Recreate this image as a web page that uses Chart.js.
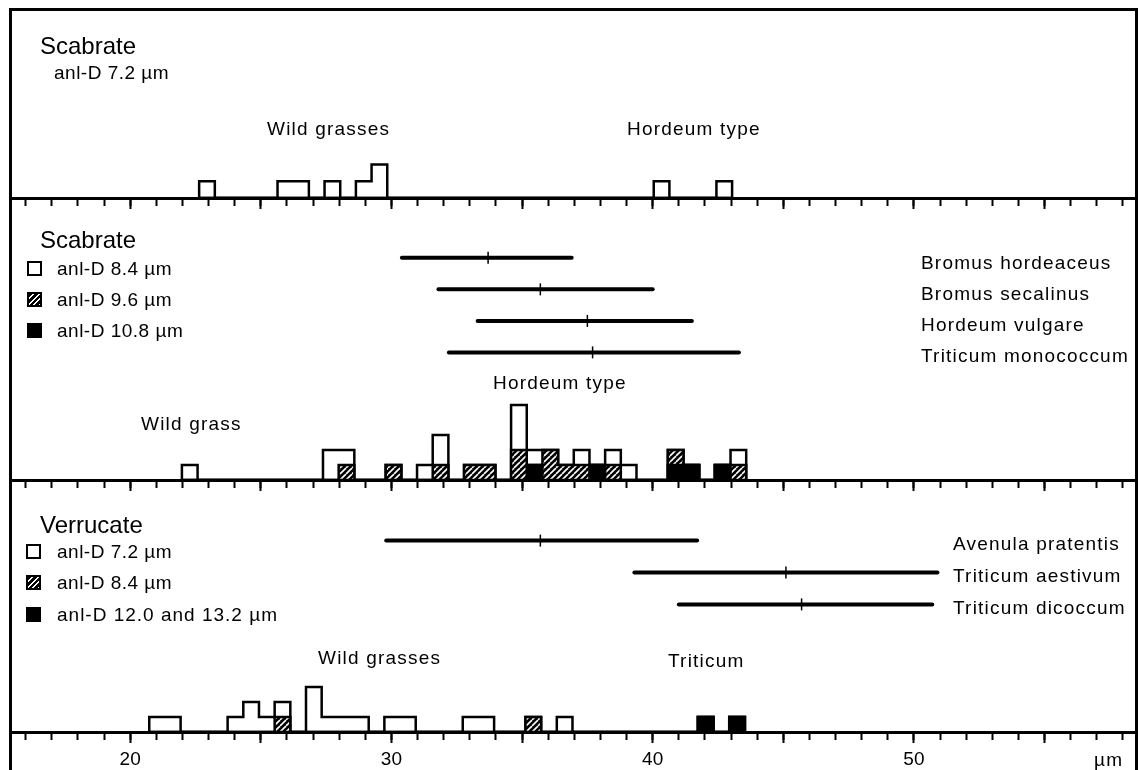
<!DOCTYPE html>
<html>
<head>
<meta charset="utf-8">
<script src="https://cdn.jsdelivr.net/npm/chart.js@4.4.1/dist/chart.umd.min.js"></script>
<style>
  body { margin: 0; background: #fff; }
  #page { position: relative; width: 1139px; height: 770px; overflow: hidden; font-family: "Liberation Sans", Arial, sans-serif; color: #000; }
  #frame { position: absolute; left: 9px; top: 8px; width: 1129px; height: 800px; box-sizing: border-box; border: 3px solid #000; border-bottom: none; }
  canvas { position: absolute; left: 10px; }
  .t { position: absolute; line-height: 1; white-space: nowrap; }
  .sq { position: absolute; width: 15px; height: 15px; box-sizing: border-box; border: 2px solid #000; background: #fff; }
  .sq.hatch { background: repeating-linear-gradient(135deg, #000 0 2.5px, #fff 2.5px 4px); }
  .sq.solid { background: #000; }
</style>
</head>
<body>
<div id="page">
  <div id="frame"></div>
  <canvas id="top" width="1126" height="203" style="top:9px;width:1126px;height:203px"></canvas>
  <canvas id="mid" width="1126" height="296" style="top:198px;width:1126px;height:296px"></canvas>
  <canvas id="bot" width="1126" height="290" style="top:480px;width:1126px;height:290px"></canvas>
</div>
<script>
// pollen size axis (µm)
const xMin = 15.4;
const xMax = 58.5;
const binWidth = 0.6;

// Scabrate, anl-D 7.2 µm (lower bin edges, counts)
const topBins = [22.64, 25.64, 26.24, 27.44, 28.64, 29.24, 40.04, 42.44];
const topOpen = [1, 1, 1, 1, 1, 2, 1, 1];

// Scabrate, anl-D 8.4 / 9.6 / 10.8 µm
const midBins =    [21.98, 27.38, 27.98, 29.78, 30.98, 31.58, 32.78, 33.38, 34.58, 35.18, 35.78, 36.38, 36.98, 37.58, 38.18, 38.78, 40.58, 41.18, 42.38, 42.98];
const midOpen =    [1, 2, 1, 0, 1, 2, 0, 0, 3, 1, 0, 0, 1, 0, 1, 1, 0, 0, 0, 1];
const midHatched = [0, 0, 1, 1, 0, 1, 1, 1, 2, 0, 2, 1, 1, 0, 1, 0, 1, 0, 0, 1];
const midBlack =   [0, 0, 0, 0, 0, 0, 0, 0, 0, 1, 0, 0, 0, 1, 0, 0, 1, 1, 1, 0];

// Verrucate, anl-D 7.2 / 8.4 / 12.0 and 13.2 µm
const botBins =    [20.73, 21.33, 23.73, 24.33, 24.93, 25.53, 26.73, 27.33, 27.93, 28.53, 29.73, 30.33, 32.73, 33.33, 35.13, 36.33, 41.73, 42.93];
const botOpen =    [1, 1, 1, 2, 1, 1, 3, 1, 1, 1, 1, 1, 1, 1, 0, 1, 0, 0];
const botHatched = [0, 0, 0, 0, 0, 1, 0, 0, 0, 0, 0, 0, 0, 0, 1, 0, 0, 0];
const botBlack =   [0, 0, 0, 0, 0, 0, 0, 0, 0, 0, 0, 0, 0, 0, 0, 0, 1, 1];

// reference ranges: min, mean, max
const midSpecies = ['Bromus hordeaceus', 'Bromus secalinus', 'Hordeum vulgare', 'Triticum monococcum'];
const midMin =  [30.4, 31.8, 33.3, 32.2];
const midMean = [33.7, 35.7, 37.5, 37.7];
const midMax =  [36.9, 40.0, 41.5, 43.3];

const botSpecies = ['Avenula pratentis', 'Triticum aestivum', 'Triticum dicoccum'];
const botMin =  [29.8, 39.3, 41.0];
const botMean = [35.7, 45.1, 45.7];
const botMax =  [41.7, 50.9, 50.7];

const FONT = 'Liberation Sans';

function hatchPattern() {
  const s = 6;
  const c = document.createElement('canvas');
  c.width = s; c.height = s;
  const g = c.getContext('2d');
  g.fillStyle = '#000';
  g.fillRect(0, 0, s, s);
  g.strokeStyle = '#fff';
  g.lineWidth = 1.6;
  for (const o of [-s, 0, s]) {
    g.beginPath();
    g.moveTo(o, s);
    g.lineTo(o + s, 0);
    g.stroke();
  }
  return g.createPattern(c, 'repeat');
}
const hatch = hatchPattern();

function stepPoints(bins, h) {
  const pts = [{x: bins[0], y: 0}];
  bins.forEach((b, i) => {
    if (i > 0) {
      const prevEnd = bins[i - 1] + binWidth;
      if (b - prevEnd > 0.05) pts.push({x: prevEnd, y: 0});
    }
    pts.push({x: b, y: h[i]});
  });
  pts.push({x: bins[bins.length - 1] + binWidth, y: 0});
  return pts;
}

function cum(...arrs) {
  return arrs[0].map((_, i) => arrs.reduce((s, a) => s + a[i], 0));
}

function stepSet(points, fillColor) {
  return {
    data: points,
    stepped: true,
    borderColor: '#000',
    borderWidth: 2.5,
    borderJoinStyle: 'miter',
    backgroundColor: fillColor || 'transparent',
    fill: fillColor ? 'origin' : false,
    pointRadius: 0
  };
}

function histSets(bins, open, hatched, black) {
  const zero = bins.map(() => 0);
  hatched = hatched || zero;
  black = black || zero;
  return [
    stepSet(stepPoints(bins, black), '#000'),
    stepSet(stepPoints(bins, cum(black, hatched)), hatch),
    stepSet(stepPoints(bins, cum(black, hatched, open)))
  ];
}

function rangeSets(mins, means, maxs) {
  const sets = [{
    data: means.map((m, i) => ({x: m, y: i + 1})),
    yAxisID: 'yRows',
    showLine: false,
    pointStyle: 'line',
    pointRadius: 6,
    pointRotation: 90,
    pointBorderWidth: 1.5,
    pointBorderColor: '#000'
  }];
  mins.forEach((lo, i) => {
    sets.push({
      data: [{x: lo, y: i + 1}, {x: maxs[i], y: i + 1}],
      yAxisID: 'yRows',
      borderColor: '#000',
      borderWidth: 4,
      borderCapStyle: 'round',
      pointRadius: 0
    });
  });
  return sets;
}

function panel(id, datasets, yMax, rows, labels, padBottom) {
  const scales = {
    x: {
      type: 'linear', min: xMin, max: xMax, position: {y: 0},
      border: {display: true, color: '#000', width: 3},
      grid: {drawOnChartArea: false, tickLength: 6, tickWidth: 2, tickColor: '#000'},
      ticks: {display: false, stepSize: 1, includeBounds: false, maxTicksLimit: 100}
    },
    xMajor: {
      type: 'linear', axis: 'x', min: xMin, max: xMax, position: {y: 0},
      border: {display: false},
      grid: {drawOnChartArea: false, tickLength: 11, tickWidth: 2, tickColor: '#000'},
      ticks: {
        display: labels, stepSize: 5, includeBounds: false, autoSkip: false, maxRotation: 0,
        color: '#000', padding: 5, font: {family: FONT, size: 19},
        callback: v => (v % 10 === 0 ? v : '')
      }
    },
    y: {display: false, min: 0, max: yMax}
  };
  if (rows) scales.yRows = {axis: 'y', display: false, reverse: true, min: rows[0], max: rows[1]};
  return new Chart(id, {
    type: 'line',
    data: {datasets},
    options: {
      responsive: false,
      animation: false,
      layout: {autoPadding: false, padding: {top: 0, left: 0, right: 0, bottom: padBottom}},
      plugins: {legend: {display: false}, tooltip: {enabled: false}},
      scales
    }
  });
}

panel('top', histSets(topBins, topOpen), 11.3, null, false, 14);
panel('mid', rangeSets(midMin, midMean, midMax).concat(histSets(midBins, midOpen, midHatched, midBlack)), 18.8, [-0.9, 8.05], false, 14);
panel('bot', rangeSets(botMin, botMean, botMax).concat(histSets(botBins, botOpen, botHatched, botBlack)), 16.8, [-0.9, 7.0], true, 38);

// text
const page = document.getElementById('page');
function addText(text, x, baseline, size, spacing) {
  const d = document.createElement('div');
  d.className = 't';
  d.textContent = text;
  d.style.left = x + 'px';
  d.style.top = (baseline - 0.8465 * size) + 'px';
  d.style.fontSize = size + 'px';
  d.style.letterSpacing = (spacing || 0) + 'px';
  page.appendChild(d);
}
function addBox(kind, x, cy) {
  const d = document.createElement('div');
  d.className = 'sq ' + kind;
  d.style.left = x + 'px';
  d.style.top = (cy - 7.5) + 'px';
  page.appendChild(d);
}

const S = 19, LS = 1.2;
addText('Scabrate', 40, 54, 24);
addText('anl-D 7.2 \u00b5m', 54, 79, S, 0.5);
addText('Wild grasses', 267, 135, S, LS);
addText('Hordeum type', 627, 135, S, LS);

addText('Scabrate', 40, 248, 24);
['anl-D 8.4 \u00b5m', 'anl-D 9.6 \u00b5m', 'anl-D 10.8 \u00b5m'].forEach((t, i) => {
  addBox(['', 'hatch', 'solid'][i], 27, 268 + i * 31);
  addText(t, 57, 275 + i * 31, S, 0.5);
});
midSpecies.forEach((t, i) => addText(t, 921, 269 + i * 31, S, LS));
addText('Hordeum type', 493, 389, S, LS);
addText('Wild grass', 141, 430, S, LS);

addText('Verrucate', 40, 533, 24);
['anl-D 7.2 \u00b5m', 'anl-D 8.4 \u00b5m', 'anl-D 12.0 and 13.2 \u00b5m'].forEach((t, i) => {
  addBox(['', 'hatch', 'solid'][i], 26, 551 + i * 31.5);
  addText(t, 57, 558 + i * 31.5, S, i === 2 ? 1.0 : 0.5);
});
botSpecies.forEach((t, i) => addText(t, 953, 550 + i * 32, S, LS));
addText('Wild grasses', 318, 664, S, LS);
addText('Triticum', 668, 667, S, LS);
addText('\u00b5m', 1094, 766, S, LS);
</script>
</body>
</html>
